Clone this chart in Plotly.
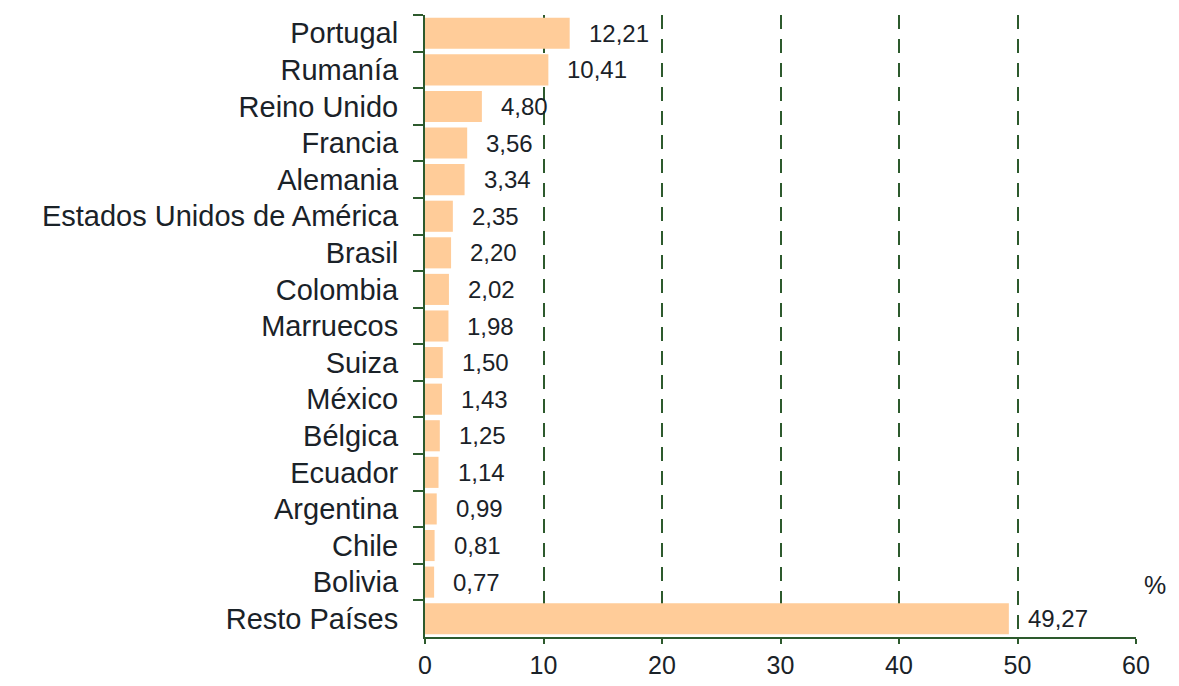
import plotly.graph_objects as go

countries = ["Portugal", "Rumanía", "Reino Unido", "Francia", "Alemania",
             "Estados Unidos de América", "Brasil", "Colombia", "Marruecos",
             "Suiza", "México", "Bélgica", "Ecuador", "Argentina", "Chile",
             "Bolivia", "Resto Países"]
values = [12.21, 10.41, 4.80, 3.56, 3.34, 2.35, 2.20, 2.02, 1.98, 1.50,
          1.43, 1.25, 1.14, 0.99, 0.81, 0.77, 49.27]
x_ticks = [0, 10, 20, 30, 40, 50, 60]

GREEN = "#2d5a2d"
BAR = "#ffcc99"
TXT = "#1a2228"
FONT = "Liberation Sans, Arial, sans-serif"

# page body has an 8px margin on every side; keep the figure inside the window
OFF = 8
PLOT_L, PLOT_R, PLOT_T, PLOT_B = 425, 1136, 15, 637   # target pixel box
W, H = 1179 - 2 * OFF, 686 - 2 * OFF

fig = go.Figure(go.Bar(
    x=values, y=countries, orientation="h",
    marker=dict(color=BAR, line=dict(width=0)),
    hoverinfo="skip",
))

for c, v in zip(countries, values):
    fig.add_annotation(
        x=v, y=c, xref="x", yref="y",
        text=f"{v:.2f}".replace(".", ","),
        showarrow=False, xanchor="left", yanchor="middle",
        xshift=17, font=dict(family=FONT, size=24, color=TXT),
    )

fig.add_annotation(
    x=(1168 - PLOT_L) / (PLOT_R - PLOT_L), y=(PLOT_B - 585) / (PLOT_B - PLOT_T),
    xref="paper", yref="paper", text="%",
    xanchor="right", yanchor="middle",
    showarrow=False, font=dict(family=FONT, size=25, color=TXT),
)

fig.update_layout(
    width=W, height=H,
    margin=dict(l=PLOT_L - OFF, r=OFF + W - PLOT_R, t=PLOT_T - OFF,
                b=OFF + H - PLOT_B),
    paper_bgcolor="white", plot_bgcolor="white",
    bargap=0.15,
    showlegend=False,
    font=dict(family=FONT, color=TXT),
)

fig.update_xaxes(
    range=[0, 60], tickvals=x_ticks, ticktext=[str(t) for t in x_ticks],
    showgrid=True, gridcolor=GREEN, gridwidth=2, griddash="14px,10px",
    zeroline=False,
    showline=True, linecolor=GREEN, linewidth=2,
    ticks="outside", ticklen=5, tickwidth=2, tickcolor=GREEN,
    tickfont=dict(family=FONT, size=25, color=TXT),
    ticklabelstandoff=0,
    automargin=False,
    fixedrange=True,
)

fig.update_yaxes(
    categoryorder="array", categoryarray=countries, autorange="reversed",
    tickmode="linear", dtick=1,
    showgrid=False, zeroline=False,
    showline=True, linecolor=GREEN, linewidth=2,
    ticks="outside", tickson="boundaries", ticklen=10, tickwidth=2,
    tickcolor=GREEN,
    tickfont=dict(family=FONT, size=29, color=TXT),
    ticklabelstandoff=19,
    automargin=False,
    fixedrange=True,
)

fig.write_html("out.html")
